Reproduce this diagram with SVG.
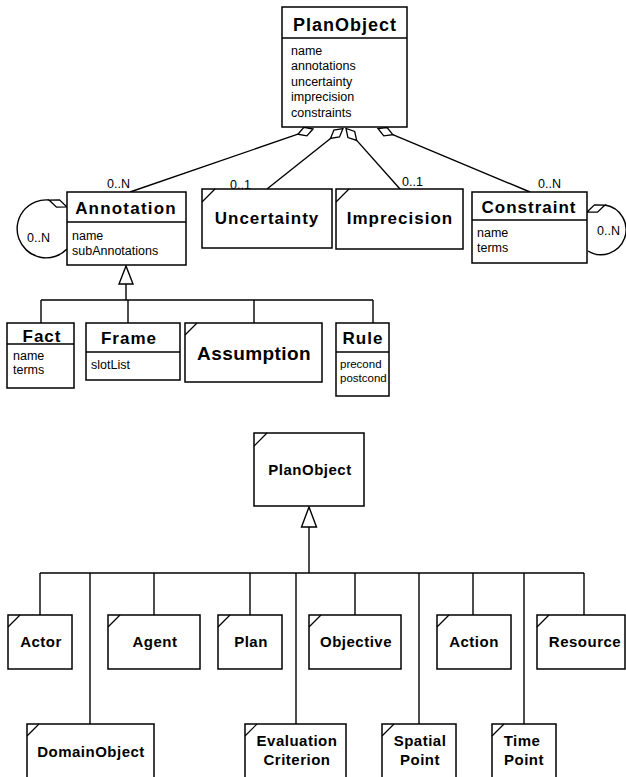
<svg xmlns="http://www.w3.org/2000/svg" width="626" height="777" viewBox="0 0 626 777">
<style>
.box{fill:#fff;stroke:#000;stroke-width:1.5}
.sep{stroke:#000;stroke-width:1.4}
.notch{stroke:#000;stroke-width:1.2}
.ln{stroke:#000;stroke-width:1.4;fill:none}
.dia{fill:#fff;stroke:#000;stroke-width:1.3}
.tri{fill:#fff;stroke:#000;stroke-width:1.4}
.t{font-family:"Liberation Sans",Arial,sans-serif;font-weight:bold;font-size:17px;letter-spacing:1px;text-anchor:middle;fill:#000}
.a{font-family:"Liberation Sans",Arial,sans-serif;font-size:12.5px;fill:#000}
.m{font-family:"Liberation Sans",Arial,sans-serif;font-size:12.5px;fill:#000}
.b{font-family:"Liberation Sans",Arial,sans-serif;font-weight:bold;font-size:15px;letter-spacing:0.5px;text-anchor:middle;fill:#000}
</style>
<rect width="626" height="777" fill="#fff"/>

<g id="connectors">
  <!-- aggregations from PlanObject -->
  <line class="ln" x1="297.9" y1="134.2" x2="130" y2="192"/>
  <polygon class="dia" points="313,129 306.9,135.9 297.9,134.2 303.9,127.3"/>
  <line class="ln" x1="330.5" y1="138.5" x2="267" y2="189"/>
  <polygon class="dia" points="343,128.5 339.5,137 330.5,138.5 333.9,130"/>
  <line class="ln" x1="356.7" y1="140.4" x2="400" y2="189"/>
  <polygon class="dia" points="346,128.5 347.9,137.5 356.7,140.4 354.7,131.5"/>
  <line class="ln" x1="392.8" y1="134.7" x2="530" y2="192"/>
  <polygon class="dia" points="378,128.5 383.7,135.8 392.8,134.7 387.1,127.5"/>
  <text class="m" x="107" y="188">0..N</text>
  <text class="m" x="230" y="189">0..1</text>
  <text class="m" x="402" y="186">0..1</text>
  <text class="m" x="538" y="188">0..N</text>

  <!-- self loops -->
  <path class="ln" d="M49,200 A29,29 0 1,0 67,249"/>
  <polygon class="dia" points="67,207 59.5,199.8 49,200 56.5,207.2"/>
  <text class="m" x="27" y="242">0..N</text>
  <path class="ln" d="M605,205 A25,25 0 1,1 588,251"/>
  <polygon class="dia" points="587,212 597.5,212.2 605,205 594.5,204.8"/>
  <text class="m" x="597" y="235">0..N</text>

  <!-- Annotation generalization -->
  <line class="ln" x1="126" y1="284" x2="126" y2="300"/>
  <polygon class="tri" points="126,266 119,284 133,284"/>
  <line class="ln" x1="41" y1="300" x2="373" y2="300"/>
  <line class="ln" x1="41" y1="300" x2="41" y2="323"/>
  <line class="ln" x1="128" y1="300" x2="128" y2="323"/>
  <line class="ln" x1="254" y1="300" x2="254" y2="323"/>
  <line class="ln" x1="373" y1="300" x2="373" y2="323"/>

  <!-- PlanObject generalization -->
  <line class="ln" x1="309" y1="527" x2="309" y2="573"/>
  <polygon class="tri" points="309,507 301.5,527 316.5,527"/>
  <line class="ln" x1="40" y1="573" x2="584" y2="573"/>
  <line class="ln" x1="40" y1="573" x2="40" y2="615"/>
  <line class="ln" x1="90" y1="573" x2="90" y2="724"/>
  <line class="ln" x1="154" y1="573" x2="154" y2="615"/>
  <line class="ln" x1="250" y1="573" x2="250" y2="615"/>
  <line class="ln" x1="296" y1="573" x2="296" y2="724"/>
  <line class="ln" x1="355" y1="573" x2="355" y2="615"/>
  <line class="ln" x1="419" y1="573" x2="419" y2="724"/>
  <line class="ln" x1="473" y1="573" x2="473" y2="615"/>
  <line class="ln" x1="524" y1="573" x2="524" y2="724"/>
  <line class="ln" x1="584" y1="573" x2="584" y2="615"/>
</g>

<g id="PlanObjectTop">
  <rect class="box" x="282" y="7" width="125" height="120"/>
  <line class="sep" x1="282" y1="38" x2="407" y2="38"/>
  <text class="t" x="345" y="31" style="font-size:18px">PlanObject</text>
  <text class="a" x="291" y="55">name</text>
  <text class="a" x="291" y="70">annotations</text>
  <text class="a" x="291" y="86">uncertainty</text>
  <text class="a" x="291" y="101">imprecision</text>
  <text class="a" x="291" y="117">constraints</text>
</g>

<g id="Annotation">
  <rect class="box" x="67" y="192" width="119" height="73"/>
  <line class="sep" x1="67" y1="222" x2="186" y2="222"/>
  <text class="t" x="126" y="214" style="letter-spacing:1.2px">Annotation</text>
  <text class="a" x="72" y="240">name</text>
  <text class="a" x="72" y="255">subAnnotations</text>
</g>

<g id="Uncertainty">
  <rect class="box" x="202" y="189" width="130" height="59"/>
  <line class="notch" x1="202" y1="202" x2="215" y2="189"/>
  <text class="t" x="267" y="224">Uncertainty</text>
</g>

<g id="Imprecision">
  <rect class="box" x="336" y="189" width="127" height="60"/>
  <line class="notch" x1="336" y1="202" x2="349" y2="189"/>
  <text class="t" x="400" y="224">Imprecision</text>
</g>

<g id="Constraint">
  <rect class="box" x="472" y="192" width="115" height="71"/>
  <line class="sep" x1="472" y1="220" x2="587" y2="220"/>
  <text class="t" x="529" y="213">Constraint</text>
  <text class="a" x="477" y="237">name</text>
  <text class="a" x="477" y="252">terms</text>
</g>

<g id="Fact">
  <rect class="box" x="7" y="323" width="67" height="65"/>
  <line class="sep" x1="7" y1="344" x2="74" y2="344"/>
  <text class="t" x="42" y="342">Fact</text>
  <text class="a" x="13" y="360">name</text>
  <text class="a" x="13" y="374">terms</text>
</g>

<g id="Frame">
  <rect class="box" x="86" y="323" width="94" height="57"/>
  <line class="sep" x1="86" y1="352" x2="180" y2="352"/>
  <text class="t" x="129" y="344">Frame</text>
  <text class="a" x="91" y="369">slotList</text>
</g>

<g id="Assumption">
  <rect class="box" x="185" y="323" width="137" height="59"/>
  <line class="notch" x1="185" y1="335" x2="197" y2="323"/>
  <text class="t" x="254" y="360" style="font-size:19px;letter-spacing:0.4px">Assumption</text>
</g>

<g id="Rule">
  <rect class="box" x="336" y="323" width="53" height="73"/>
  <line class="sep" x1="336" y1="352" x2="389" y2="352"/>
  <text class="t" x="363" y="344">Rule</text>
  <text class="a" x="340" y="368" style="font-size:11.5px">precond</text>
  <text class="a" x="340" y="382" style="font-size:11.5px">postcond</text>
</g>

<g id="PlanObjectBottom">
  <rect class="box" x="254" y="433" width="110" height="73"/>
  <line class="notch" x1="254" y1="446" x2="267" y2="433"/>
  <text class="b" x="310" y="475">PlanObject</text>
</g>

<g id="Actor">
  <rect class="box" x="8" y="615" width="64" height="54"/>
  <line class="notch" x1="8" y1="627" x2="20" y2="615"/>
  <text class="b" x="41" y="647">Actor</text>
</g>
<g id="Agent">
  <rect class="box" x="108" y="615" width="92" height="54"/>
  <line class="notch" x1="108" y1="627" x2="120" y2="615"/>
  <text class="b" x="155" y="647">Agent</text>
</g>
<g id="Plan">
  <rect class="box" x="218" y="615" width="64" height="54"/>
  <line class="notch" x1="218" y1="627" x2="230" y2="615"/>
  <text class="b" x="251" y="647">Plan</text>
</g>
<g id="Objective">
  <rect class="box" x="309" y="615" width="92" height="54"/>
  <line class="notch" x1="309" y1="627" x2="321" y2="615"/>
  <text class="b" x="356" y="647">Objective</text>
</g>
<g id="Action">
  <rect class="box" x="437" y="615" width="74" height="54"/>
  <line class="notch" x1="437" y1="627" x2="449" y2="615"/>
  <text class="b" x="474" y="647">Action</text>
</g>
<g id="Resource">
  <rect class="box" x="537" y="615" width="88" height="54"/>
  <line class="notch" x1="537" y1="627" x2="549" y2="615"/>
  <text class="b" x="585" y="647">Resource</text>
</g>

<g id="DomainObject">
  <rect class="box" x="27" y="724" width="127" height="60"/>
  <line class="notch" x1="27" y1="736" x2="39" y2="724"/>
  <text class="b" x="91" y="757">DomainObject</text>
</g>
<g id="EvaluationCriterion">
  <rect class="box" x="245" y="724" width="101" height="60"/>
  <line class="notch" x1="245" y1="736" x2="257" y2="724"/>
  <text class="b" x="297" y="746">Evaluation</text>
  <text class="b" x="297" y="765">Criterion</text>
</g>
<g id="SpatialPoint">
  <rect class="box" x="382" y="724" width="74" height="60"/>
  <line class="notch" x1="382" y1="736" x2="394" y2="724"/>
  <text class="b" x="420" y="746">Spatial</text>
  <text class="b" x="420" y="765">Point</text>
</g>
<g id="TimePoint">
  <rect class="box" x="492" y="724" width="64" height="60"/>
  <line class="notch" x1="492" y1="736" x2="504" y2="724"/>
  <text class="b" x="522" y="746">Time</text>
  <text class="b" x="524" y="765">Point</text>
</g>
</svg>
